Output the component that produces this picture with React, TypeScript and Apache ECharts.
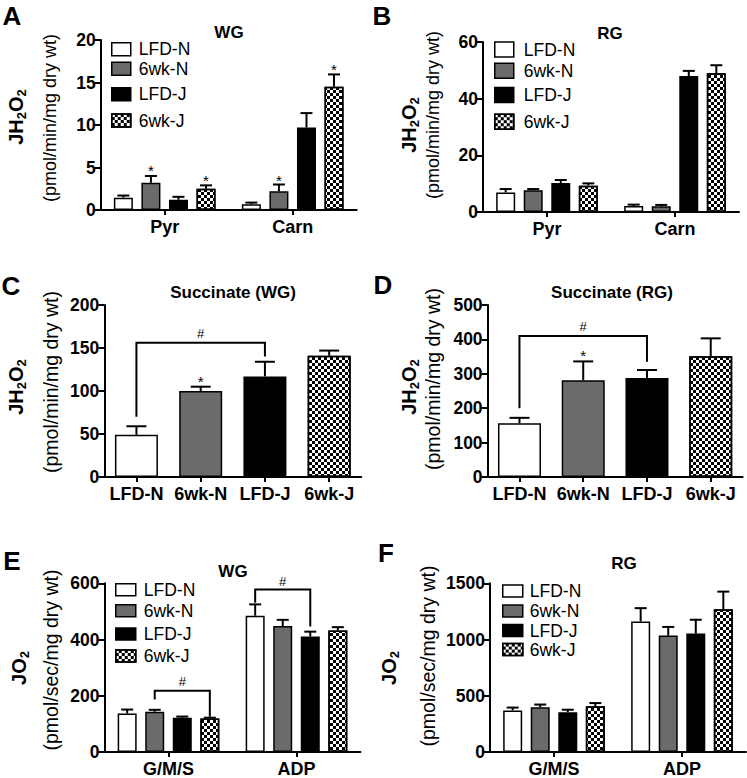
import React, { useEffect, useRef } from 'react';
import * as echarts from 'echarts';

const FONT = '"Liberation Sans", Arial, Helvetica, sans-serif';
const GROUPS = ['LFD-N', '6wk-N', 'LFD-J', '6wk-J'];

// Panel A: JH2O2, WG
const A_CATS = ['Pyr', 'Carn'];
const A_MEAN = [[1.45, 0.67], [3.2, 2.2], [1.2, 9.7], [2.5, 14.5]];
const A_SEM = [[0.25, 0.2], [0.8, 0.8], [0.35, 1.7], [0.4, 1.45]];
const A_STARS = [[0, 5.1, 1], [0, 4.0, 3], [1, 3.9, 1], [1, 17.0, 3]]; // [cat, y, group]
const A_Y = [0, 20, 5];

// Panel B: JH2O2, RG
const B_CATS = ['Pyr', 'Carn'];
const B_MEAN = [[6.9, 2.1], [7.7, 2.0], [10.2, 48], [9.3, 49]];
const B_SEM = [[1.2, 0.5], [0.4, 0.5], [1.1, 1.8], [0.8, 2.8]];
const B_Y = [0, 60, 20];

// Panel C: Succinate (WG)
const C_MEAN = [49, 100, 117, 141];
const C_SEM = [10, 5, 17, 6];
const C_STARS = [[1, 116, 0]];
const C_BRACKETS = [[0, 0, 2, 0, 156, 70, 140, 167]]; // [catL, gL, catR, gR, top, yL, yR, labelY]
const C_Y = [0, 200, 50];

// Panel D: Succinate (RG)
const D_MEAN = [156, 281, 288, 351];
const D_SEM = [16, 55, 23, 52];
const D_STARS = [[1, 364, 0]];
const D_BRACKETS = [[0, 0, 2, 0, 410, 200, 335, 437]];
const D_Y = [0, 500, 100];

// Panel E: JO2, WG
const E_CATS = ['G/M/S', 'ADP'];
const E_MEAN = [[137, 485], [143, 448], [122, 411], [119, 432]];
const E_SEM = [[14, 40], [7, 22], [4, 17], [3, 12]];
const E_BRACKETS = [[0, 1, 0, 3, 218, 187, 125, 251], [1, 0, 1, 2, 578, 531, 446, 605]];
const E_Y = [0, 600, 200];

// Panel F: JO2, RG
const F_CATS = ['G/M/S', 'ADP'];
const F_MEAN = [[370, 1161], [397, 1035], [353, 1053], [406, 1270]];
const F_SEM = [[25, 118], [25, 77], [23, 123], [29, 156]];
const F_Y = [0, 1500, 500];

const CHECK = {
  symbol: 'rect',
  symbolSize: 1,
  symbolKeepAspect: false,
  color: '#000',
  dashArrayX: [[3, 3], [0, 3, 3, 0]],
  dashArrayY: [3, 0],
  rotation: 0,
};

const STYLES: any[] = [
  { color: '#fff', borderColor: '#000', borderWidth: 1.5 },
  { color: '#6b6b6b', borderColor: '#000', borderWidth: 1.5 },
  { color: '#000', borderColor: '#000', borderWidth: 1.5 },
  { color: '#fff', borderColor: '#000', borderWidth: 1.5, decal: CHECK },
];

const BW = 19;
const GAP = 0.45;
const STEP = BW * (1 + GAP);

const errRender = (step: number, cap: number) => (params: any, api: any) => {
  const c = api.value(0), m = api.value(1), s = api.value(2), g = api.value(3);
  const p0 = api.coord([c, m]);
  const p1 = api.coord([c, m + s]);
  const x = p0[0] + (step ? (g - 1.5) * step : 0);
  return {
    type: 'group',
    children: [
      { type: 'line', shape: { x1: x, y1: p0[1], x2: x, y2: p1[1] }, style: { stroke: '#000', lineWidth: 2 } },
      { type: 'line', shape: { x1: x - cap, y1: p1[1], x2: x + cap, y2: p1[1] }, style: { stroke: '#000', lineWidth: 2 } },
    ],
  };
};

const starRender = (step: number) => (params: any, api: any) => {
  const c = api.value(0), y = api.value(1), g = api.value(2);
  const p = api.coord([c, y]);
  const x = p[0] + (step ? (g - 1.5) * step : 0);
  return {
    type: 'text',
    x, y: p[1] + 4,
    style: { text: '*', fontSize: 15, fontFamily: FONT, fill: '#000', align: 'center', verticalAlign: 'middle' },
  };
};

const bracketRender = (step: number) => (params: any, api: any) => {
  const off = (g: number) => (step ? (g - 1.5) * step : 0);
  const cL = api.value(0), gL = api.value(1), cR = api.value(2), gR = api.value(3);
  const top = api.value(4), yL = api.value(5), yR = api.value(6), lab = api.value(7);
  const pT = api.coord([cL, top]);
  const xL = pT[0] + off(gL);
  const xR = api.coord([cR, top])[0] + off(gR);
  const pyL = api.coord([cL, yL])[1];
  const pyR = api.coord([cR, yR])[1];
  const pyLab = api.coord([cL, lab])[1];
  return {
    type: 'group',
    children: [
      {
        type: 'polyline',
        shape: { points: [[xL, pyL], [xL, pT[1]], [xR, pT[1]], [xR, pyR]] },
        style: { stroke: '#000', lineWidth: 2, fill: 'none' },
      },
      {
        type: 'text',
        x: (xL + xR) / 2, y: pyLab,
        style: { text: '#', fontSize: 13, fontFamily: FONT, fill: '#000', align: 'center', verticalAlign: 'middle' },
      },
    ],
  };
};

const PANELS: any[] = [
  { grid: { left: 100.7, top: 40, width: 256, height: 170 }, cats: A_CATS, mean: A_MEAN, sem: A_SEM, y: A_Y, stars: A_STARS, brackets: [],
    legend: { left: 111, centers: [49.3, 68.8, 94.3, 120.5], iw: 19, ih: 13, pad: 3 } },
  { grid: { left: 483, top: 42, width: 256, height: 170 }, cats: B_CATS, mean: B_MEAN, sem: B_SEM, y: B_Y, stars: [], brackets: [],
    legend: { left: 494, centers: [49.5, 70.8, 95, 121.7], iw: 19, ih: 15, pad: 5 } },
  { grid: { left: 104.3, top: 305, width: 257, height: 172 }, single: true, mean: C_MEAN, sem: C_SEM, y: C_Y, stars: C_STARS, brackets: C_BRACKETS },
  { grid: { left: 487.6, top: 305, width: 255, height: 172 }, single: true, mean: D_MEAN, sem: D_SEM, y: D_Y, stars: D_STARS, brackets: D_BRACKETS },
  { grid: { left: 104.5, top: 583.3, width: 256, height: 169.4 }, cats: E_CATS, mean: E_MEAN, sem: E_SEM, y: E_Y, stars: [], brackets: E_BRACKETS,
    legend: { left: 115, centers: [589.7, 610.8, 634, 656], iw: 20, ih: 12, pad: 3 } },
  { grid: { left: 490, top: 583.3, width: 256, height: 170 }, cats: F_CATS, mean: F_MEAN, sem: F_SEM, y: F_Y, stars: [], brackets: [],
    legend: { left: 502, centers: [591, 611, 630.5, 649.6], iw: 20, ih: 12, pad: 2 } },
];

const TEXTS: any[] = [
  // panel letters
  ['A', 12, 16, 26, 'bold'], ['B', 382, 16, 26, 'bold'], ['C', 11, 286, 26, 'bold'],
  ['D', 383, 285, 26, 'bold'], ['E', 12, 561, 26, 'bold'], ['F', 386, 553, 26, 'bold'],
  // titles
  ['WG', 229, 32, 17, 'bold'], ['RG', 610, 33, 17, 'bold'],
  ['Succinate (WG)', 233, 292, 17, 'bold'], ['Succinate (RG)', 612, 292, 17, 'bold'],
  ['WG', 233, 571, 17, 'bold'], ['RG', 624, 563, 17, 'bold'],
];

const YTITLES: any[] = [
  ['H', 16, 117, 50, 118, 18, '(pmol/min/mg dry wt)'],
  ['H', 409, 125, 433, 115, 18, '(pmol/min/mg dry wt)'],
  ['H', 16, 387, 51, 382, 19.5, '(pmol/min/mg dry wt)'],
  ['H', 409, 387, 433, 379, 19.5, '(pmol/min/mg dry wt)'],
  ['O', 19, 668, 51, 660, 19.5, '(pmol/sec/mg dry wt)'],
  ['O', 389, 668, 428, 656, 19.5, '(pmol/sec/mg dry wt)'],
];

function buildOption() {
  const grid: any[] = [], xAxis: any[] = [], yAxis: any[] = [], series: any[] = [], legend: any[] = [];
  const axisLine = { show: true, lineStyle: { color: '#000', width: 2 } };
  PANELS.forEach((p, i) => {
    grid.push({ ...p.grid, containLabel: false });
    const cats = p.single ? GROUPS : p.cats;
    xAxis.push({
      gridIndex: i, type: 'category', data: cats,
      axisLine, axisTick: { show: true, alignWithLabel: true, length: 5, lineStyle: { color: '#000', width: 2 } },
      axisLabel: { color: '#000', fontWeight: 'bold', fontSize: 18, fontFamily: FONT, margin: 8, interval: 0 },
      splitLine: { show: false },
    });
    yAxis.push({
      gridIndex: i, type: 'value', min: p.y[0], max: p.y[1], interval: p.y[2],
      axisLine, axisTick: { show: true, length: 6, lineStyle: { color: '#000', width: 2 } },
      axisLabel: { color: '#000', fontWeight: 'bold', fontSize: 17.5, fontFamily: FONT, margin: 5, formatter: (v: number) => String(v) },
      splitLine: { show: false },
    });
    const step = p.single ? 0 : STEP;
    if (p.single) {
      series.push({
        type: 'bar', name: 'bars' + i, xAxisIndex: i, yAxisIndex: i, barWidth: 43,
        data: p.mean.map((v: number, g: number) => ({ value: v, itemStyle: STYLES[g] })),
      });
      series.push({
        type: 'custom', xAxisIndex: i, yAxisIndex: i, renderItem: errRender(0, 10), z: 3,
        data: p.mean.map((v: number, g: number) => [g, v, p.sem[g], g]),
      });
    } else {
      GROUPS.forEach((name, g) => {
        series.push({
          type: 'bar', name, xAxisIndex: i, yAxisIndex: i, barWidth: BW, barGap: GAP * 100 + '%',
          itemStyle: STYLES[g], data: p.mean[g],
        });
      });
      const errData: any[] = [];
      GROUPS.forEach((_, g) => p.cats.forEach((_c: string, c: number) => errData.push([c, p.mean[g][c], p.sem[g][c], g])));
      series.push({ type: 'custom', xAxisIndex: i, yAxisIndex: i, renderItem: errRender(STEP, 6), z: 3, data: errData });
      const L = p.legend;
      GROUPS.forEach((name, g) => {
        legend.push({
          data: [name], left: L.left, top: L.centers[g] - 9, orient: 'vertical', padding: 0,
          itemWidth: L.iw, itemHeight: L.ih, icon: 'rect', selectedMode: false,
          itemStyle: { borderColor: '#000', borderWidth: 1.5 },
          textStyle: { fontSize: 17.5, fontFamily: FONT, color: '#000', lineHeight: 18, padding: [0, 0, 0, L.pad] },
        });
      });
    }
    if (p.stars.length) {
      series.push({ type: 'custom', xAxisIndex: i, yAxisIndex: i, renderItem: starRender(step), z: 4, data: p.stars });
    }
    if (p.brackets.length) {
      series.push({ type: 'custom', xAxisIndex: i, yAxisIndex: i, renderItem: bracketRender(step), z: 4, data: p.brackets });
    }
  });

  const graphic: any[] = [];
  TEXTS.forEach(([t, x, y, fs, fw]) => {
    graphic.push({ type: 'text', x, y, style: { text: t, fontSize: fs, fontWeight: fw, fontFamily: FONT, fill: '#000', align: 'center', verticalAlign: 'middle' } });
  });
  YTITLES.forEach(([mid, x1, y1, x2, y2, fs, paren]) => {
    const txt = mid === 'H' ? '{b|JH}{s|2}{b|O}{s|2}' : '{b|JO}{s|2}';
    graphic.push({
      type: 'text', x: x1, y: y1, rotation: Math.PI / 2,
      style: {
        text: txt, align: 'center', verticalAlign: 'middle', fill: '#000',
        rich: {
          b: { fontSize: 20, fontWeight: 'bold', fontFamily: FONT, lineHeight: 24, fill: '#000' },
          s: { fontSize: 13, fontWeight: 'bold', fontFamily: FONT, lineHeight: 13, verticalAlign: 'bottom', fill: '#000' },
        },
      },
    });
    graphic.push({
      type: 'text', x: x2, y: y2, rotation: Math.PI / 2,
      style: { text: paren, fontSize: fs, fontFamily: FONT, fill: '#000', align: 'center', verticalAlign: 'middle' },
    });
  });

  return {
    animation: false,
    backgroundColor: '#fff',
    grid, xAxis, yAxis, series, legend, graphic,
  };
}

export default function App() {
  const ref = useRef<HTMLDivElement>(null);
  useEffect(() => {
    if (!ref.current) return;
    const chart = echarts.init(ref.current, undefined, { renderer: 'svg' });
    chart.setOption(buildOption() as any);
    return () => chart.dispose();
  }, []);
  return <div ref={ref} style={{ position: 'absolute', left: 0, top: 0, width: 747, height: 778 }} />;
}
